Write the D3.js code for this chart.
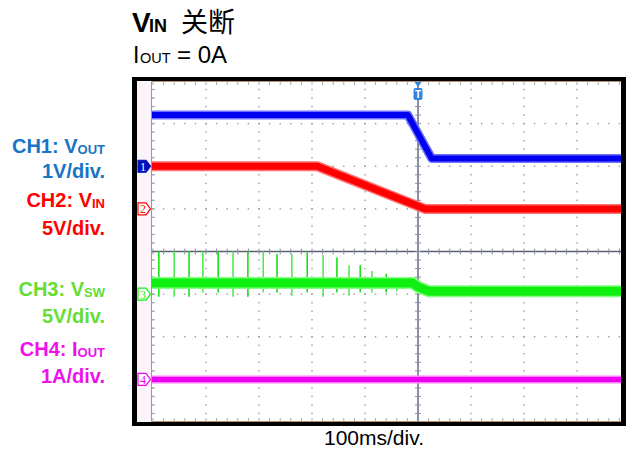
<!DOCTYPE html>
<html>
<head>
<meta charset="utf-8">
<script src="https://cdn.jsdelivr.net/npm/d3@7"></script>
<style>
  body { margin: 0; background: #fff; }
  svg { display: block; font-family: "Liberation Sans", Arial, sans-serif; }
</style>
</head>
<body>
<div id="chart"></div>
<script>
// scope capture: 100ms/div, trigger at t = 0 (ms)
const ch1Time = [-520, -19, 26, 420];
const ch1Val = [1.2, 1.2, 0.18, 0.18];          // V, 1V/div
const ch2Time = [-520, -190, 13, 420];
const ch2Val = [5.0, 5.0, 0.0, 0.0];            // V, 5V/div
const ch3Time = [-520, -10, 0, 20, 420];
const ch3Val = [1.3, 1.3, 0.85, 0.35, 0.35];    // V, 5V/div
const ch4Time = [-520, 420];
const ch4Val = [0, 0];                          // A, 1A/div

// switching spikes on CH3
const spikeTime = [-489, -460, -432, -406, -377, -349, -321, -292, -266, -238, -209, -179, -153, -130, -109, -87, -60, -40];
const spikeHigh = [5.0, 5.0, 5.0, 5.0, 5.0, 5.0, 5.0, 5.0, 4.7, 4.7, 5.0, 4.6, 4.3, 3.4, 3.4, 2.7, 2.4, 2.0];
const spikeLow = [-0.3, -0.3, -0.3, 0.2, 0.2, -0.3, -0.3, 0.2, 0.2, -0.2, 0.2, -0.3, 0.2, -0.2, 0.2, 0.2, 0.2, 0.3];

const chNames = ["1", "2", "3", "4"];
const chOffset = [2, 1, -1, -3];      // divisions
const chPerDiv = [1, 5, 5, 1];

const labelLines = [
  ["CH1: V", "OUT"], ["1V/div."],
  ["CH2: V", "IN"], ["5V/div."],
  ["CH3: V", "SW"], ["5V/div."],
  ["CH4: I", "OUT"], ["1A/div."]
];

const width = 626, height = 451;
const svg = d3.select("#chart").append("svg")
  .attr("width", width).attr("height", height);

const x = d3.scaleLinear().domain([-500, 500]).range([153, 683]);
const y = d3.scaleLinear().domain([-4, 4]).range([422, 81]);
const scrL = 151, scrR = 621, scrT = 81, scrB = 422;

const chColor = ["#0000f0", "#ff0000", "#10f010", "#f000f0"];
const chHalo = ["#7070ff", "#ff7070", "#80ff80", "#ff80ff"];
const labelColor = ["#1a73c4", "#1a73c4", "#ff0000", "#ff0000", "#66dd33", "#66dd33", "#ee11ee", "#ee11ee"];

// frame
svg.append("rect").attr("x", 132).attr("y", 77).attr("width", 494).attr("height", 349).attr("fill", "#000");
svg.append("rect").attr("x", 137).attr("y", scrT).attr("width", scrR - 137).attr("height", scrB - scrT).attr("fill", "#fff");
svg.append("rect").attr("x", 137).attr("y", scrT).attr("width", scrL - 137).attr("height", scrB - scrT).attr("fill", "#fcf4fb");
svg.append("path")
  .attr("d", `M${scrR},${scrT + 0.5}H${scrL + 0.5}V${scrB - 0.5}H${scrR}`)
  .attr("fill", "none").attr("stroke", "#b8906c").attr("stroke-width", 1);

svg.append("clipPath").attr("id", "scr").append("rect")
  .attr("x", scrL + 1).attr("y", scrT).attr("width", scrR - scrL - 1).attr("height", scrB - scrT);

const scr = svg.append("g").attr("clip-path", "url(#scr)");

// graticule dots
const divX = d3.range(-5, 6).filter(d => d !== 0);
const divY = d3.range(-3, 4).filter(d => d !== 0);
const minorT = d3.range(-500, 501, 20);
const minorD = d3.range(-4, 4.01, 0.2);

const dots = [];
divX.forEach(k => minorD.forEach(d => dots.push([x(k * 100), y(d)])));
divY.forEach(j => minorT.forEach(t => dots.push([x(t), y(j)])));
scr.append("g").selectAll("rect").data(dots).enter().append("rect")
  .attr("x", d => d[0] - 0.7).attr("y", d => d[1] - 0.7)
  .attr("width", 1.4).attr("height", 1.4).attr("fill", "#9a9a9a");

// edge ticks
scr.append("g").selectAll("line").data(minorT).enter().append("line")
  .attr("x1", d => x(d)).attr("x2", d => x(d)).attr("y1", scrT + 1).attr("y2", scrT + 4)
  .attr("stroke", "#aaa");
scr.append("g").selectAll("line").data(minorT).enter().append("line")
  .attr("x1", d => x(d)).attr("x2", d => x(d)).attr("y1", scrB - 4).attr("y2", scrB - 1)
  .attr("stroke", "#aaa");
scr.append("g").selectAll("line").data(minorD).enter().append("line")
  .attr("x1", scrL + 1).attr("x2", scrL + 4).attr("y1", d => y(d)).attr("y2", d => y(d))
  .attr("stroke", "#aaa");

// center cross
scr.append("line").attr("x1", scrL).attr("x2", scrR).attr("y1", y(0)).attr("y2", y(0))
  .attr("stroke", "#5a6070").attr("stroke-width", 1.5);
scr.append("line").attr("x1", x(0)).attr("x2", x(0)).attr("y1", scrT).attr("y2", scrB)
  .attr("stroke", "#8a90a6").attr("stroke-width", 2);
scr.append("g").selectAll("line").data(minorT).enter().append("line")
  .attr("x1", d => x(d)).attr("x2", d => x(d)).attr("y1", y(0) - 3).attr("y2", y(0) + 3)
  .attr("stroke", "#8a90a0");
scr.append("g").selectAll("line").data(minorD).enter().append("line")
  .attr("x1", x(0) - 3).attr("x2", x(0) + 3).attr("y1", d => y(d)).attr("y2", d => y(d))
  .attr("stroke", "#8a90a0");

// traces
const traces = [[ch1Time, ch1Val], [ch2Time, ch2Val], [ch3Time, ch3Val], [ch4Time, ch4Val]];
const traceWidth = [6, 7, 9, 5];

traces.forEach((tr, i) => {
  const pts = tr[0].map((t, k) => [t, tr[1][k]]);
  const line = d3.line()
    .x(d => x(d[0]))
    .y(d => y(chOffset[i] + d[1] / chPerDiv[i]));
  if (i === 2) {
    // spikes behind the band
    scr.append("g").selectAll("line").data(spikeTime).enter().append("line")
      .attr("x1", d => x(d)).attr("x2", d => x(d))
      .attr("y1", (d, k) => y(chOffset[i] + spikeLow[k] / chPerDiv[i]))
      .attr("y2", (d, k) => y(chOffset[i] + spikeHigh[k] / chPerDiv[i]))
      .attr("stroke", (d, k) => k % 2 ? "#50ec50" : "#18e018")
      .attr("stroke-width", 1.6);
  }
  scr.append("path").datum(pts).attr("d", line)
    .attr("fill", "none").attr("stroke", chHalo[i])
    .attr("stroke-width", traceWidth[i] + 3).attr("stroke-linejoin", "round");
  scr.append("path").datum(pts).attr("d", line)
    .attr("fill", "none").attr("stroke", chColor[i])
    .attr("stroke-width", traceWidth[i]).attr("stroke-linejoin", "round");
});

// channel markers
const marker = svg.append("g");
chNames.forEach((n, i) => {
  const cy = y(chOffset[i]);
  const filled = i === 0;
  marker.append("path")
    .attr("d", `M138,${cy - 6}H146L150.5,${cy}L146,${cy + 6}H138Z`)
    .attr("fill", filled ? "#0010c0" : "#fff")
    .attr("stroke", filled ? "#0010c0" : chColor[i])
    .attr("stroke-width", 1.2);
  marker.append("text").attr("x", 143).attr("y", cy + 4.5)
    .attr("text-anchor", "middle")
    .style("font-family", "'Liberation Serif', serif").style("font-size", "12px")
    .attr("fill", filled ? "#fff" : chColor[i]).text(n);
});

// trigger marker
svg.append("path").attr("d", `M${x(0) - 3.5},${scrT + 1}H${x(0) + 3.5}L${x(0)},${scrT + 6}Z`).attr("fill", "#2f86e0");
svg.append("rect").attr("x", x(0) - 4.5).attr("y", scrT + 7).attr("width", 9).attr("height", 12).attr("rx", 2)
  .attr("fill", "#2f86e0");
svg.append("text").attr("x", x(0)).attr("y", scrT + 17).attr("text-anchor", "middle")
  .style("font-size", "10px").style("font-weight", "bold").attr("fill", "#fff").text("T");

// left labels
const baselines = [153, 178, 207, 235, 296, 323, 356, 383];
labelLines.forEach((l, i) => {
  const t = svg.append("text").attr("x", 105).attr("y", baselines[i])
    .attr("text-anchor", "end").attr("fill", labelColor[i])
    .style("font-size", "20px").style("font-weight", "bold");
  t.append("tspan").text(l[0]);
  if (l[1]) t.append("tspan").attr("dy", 1).style("font-size", "13px").text(l[1]);
});

// title
const title = svg.append("text").attr("x", 132).attr("y", 32).attr("fill", "#000");
title.append("tspan").style("font-size", "28px").style("font-weight", "bold").text("V");
title.append("tspan").attr("x", 149).style("font-size", "18px").style("font-weight", "bold").text("IN");
title.append("tspan").attr("x", 181)
  .style("font-family", "'Noto Sans CJK SC', sans-serif").style("font-size", "27px").text("关断");

const sub = svg.append("text").attr("x", 133).attr("y", 63).attr("fill", "#000");
sub.append("tspan").style("font-size", "23px").text("I");
sub.append("tspan").attr("x", 140).style("font-size", "14.5px").text("OUT");
sub.append("tspan").attr("x", 177).style("font-size", "24px").text("= 0A");

// time base
svg.append("text").attr("x", 374).attr("y", 445).attr("text-anchor", "middle")
  .style("font-size", "21px").attr("fill", "#000").text("100ms/div.");
</script>
</body>
</html>
